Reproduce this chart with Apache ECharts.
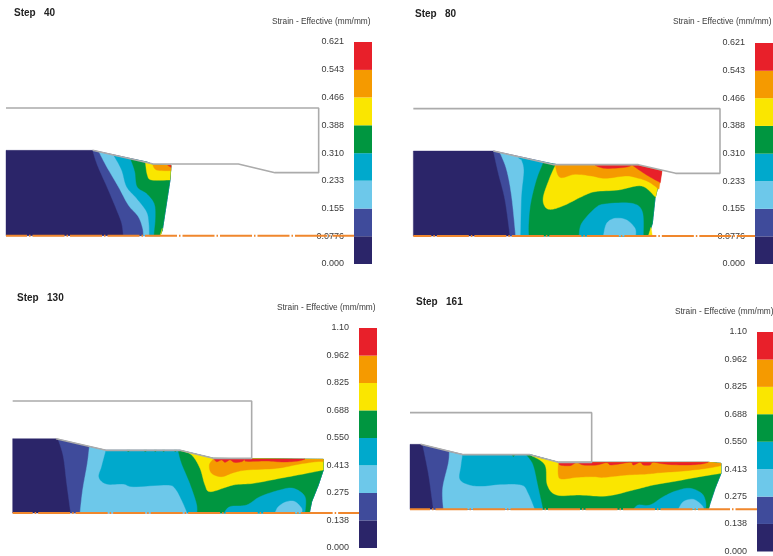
<!DOCTYPE html>
<html><head><meta charset="utf-8">
<style>html,body{margin:0;padding:0;background:#fff}#c{width:773px;height:556px;filter:blur(0.35px)}</style>
<script src="https://cdn.jsdelivr.net/npm/echarts@6/dist/echarts.min.js"></script>
</head><body><div id="c"></div>
<script>
const bandColors=['#2B2569','#3F4B9B','#6DC8EA','#00A9CC','#009640','#FAE600','#F59A00','#E8202A'];
const lowLevels=[0,0.0776,0.155,0.233,0.310,0.388,0.466,0.543,0.621];
const lowLabels=['0.000','0.0776','0.155','0.233','0.310','0.388','0.466','0.543','0.621'];
const highLevels=[0,0.138,0.275,0.413,0.550,0.688,0.825,0.962,1.10];
const highLabels=['0.000','0.138','0.275','0.413','0.550','0.688','0.825','0.962','1.10'];

// each band: [level, outline points, how many leading points form a smooth contour]
const step40Die=[[18,54],[956,54],[956,248],[825,248],[715,222],[460,222],[278,181]];
const step40Bands=[
[0,[[18,181],[278,181],[440,216],[460,224],[513,226],[510,270],[487,420],[480,437],[18,437]],0],
[1,[[278,181],[292,225],[325,300],[350,360],[365,400],[370,437],[480,437],[487,420],[510,270],[513,226],[460,224],[440,216]],6],
[2,[[297,186],[320,230],[355,290],[385,345],[415,380],[428,415],[430,437],[480,437],[487,420],[510,270],[513,226],[460,224],[440,216]],7],
[3,[[342,197],[365,240],[380,290],[410,325],[440,365],[447,400],[448,437],[480,437],[487,420],[510,270],[513,226],[460,224],[440,216]],7],
[4,[[392,207],[405,245],[412,290],[440,310],[463,340],[467,380],[462,437],[480,437],[487,420],[510,270],[513,226],[460,224],[440,216]],7],
[5,[[436,216],[442,255],[455,270],[510,270],[513,226],[460,224]],4],
[5,[[487,415],[482,437],[480,437]],0],
[6,[[458,224],[470,240],[513,242],[513,226]],3],
[7,[[503,226],[513,226],[513,232]],0]];

const step80Die=[[25,56],[945,56],[945,250],[812,250],[700,224],[447,224],[265,183]];
const step80Rim=[[730,438],[742,400],[750,325],[760,285],[770,243],[700,226],[470,226],[445,222]];
const step80Bands=[
[0,[[25,183],[265,183],[445,222],[470,226],[700,226],[770,243],[760,285],[750,325],[742,400],[730,438],[25,438]],0],
[1,[[265,183],[280,250],[300,330],[315,438],...step80Rim],4],
[2,[[285,188],[305,240],[320,320],[332,438],...step80Rim],4],
[3,[[347,203],[357,240],[350,320],[347,438],...step80Rim],4],
[3,[[340,203],[346,208],[352,203]],0],
[4,[[415,218],[395,270],[378,340],[372,400],[372,438],...step80Rim],5],
[5,[[452,224],[435,262],[415,320],[420,350],[440,358],[480,345],[530,320],[570,305],[640,300],[710,288],[752,322],[762,275],[770,243],[700,226]],11],
[5,[[738,412],[742,438],[730,438]],0],
[6,[[450,224],[465,262],[510,253],[560,258],[600,265],[660,258],[690,262],[730,275],[762,298],[770,243],[700,226]],9],
[7,[[570,226],[600,235],[660,232],[680,226]],4],
[7,[[682,226],[725,255],[766,278],[771,243],[700,226]],3],
[3,[[522,438],[530,400],[570,355],[600,342],[680,340],[712,365],[715,438]],7],
[2,[[595,438],[605,400],[630,385],[665,390],[690,415],[692,438]],6]];

const step130Die=[[38,33],[755,33],[755,205],[640,205],[540,181],[318,181],[168,146]];
const step130Rim=[[928,369],[935,335],[955,285],[970,240],[970,208],[640,205],[540,181],[318,181]];
const step130Bands=[
[0,[[38,146],[168,146],[318,181],[540,181],[640,205],[915,208],[970,208],[970,240],[955,285],[935,335],[928,369],[38,369]],0],
[1,[[175,150],[190,200],[200,280],[212,369],...step130Rim],4],
[2,[[268,170],[262,220],[248,300],[240,369],...step130Rim],4],
[3,[[318,181],[305,230],[297,262],[320,282],[370,282],[400,290],[500,285],[525,295],[545,330],[562,369],...step130Rim.slice(0,-1)],10],
[4,[[535,183],[545,220],[570,280],[590,340],[592,369],...step130Rim.slice(0,-1)],5],
[5,[[540,181],[575,195],[600,235],[615,285],[632,305],[700,285],[760,280],[840,265],[920,250],[970,240],[970,208],[640,205]],10],
[6,[[640,207],[628,225],[635,250],[665,260],[700,248],[740,240],[830,235],[900,222],[950,215],[970,215],[970,208]],10],
[7,[[642,207],[650,215],[665,210],[675,217],[690,210],[703,217],[725,215],[735,208],[740,214],[800,213],[850,216],[895,213],[915,207]],13],
[3,[[672,369],[690,350],[740,345],[780,320],[840,300],[880,295],[915,320],[915,369]],8],
[2,[[825,369],[835,350],[860,335],[885,335],[905,355],[905,369]],6],
[4,[[380,181],[385,186],[390,181]],0],[4,[[431,181],[436,186],[441,181]],0],[4,[[462,181],[466,186],[470,181]],0],[4,[[487,181],[491,186],[495,181]],0],[4,[[522,181],[526,186],[530,181]],0]];

const step161Die=[[30,38],[575,38],[575,187],[475,187],[390,164],[190,164],[62,133]];
const step161Rim=[[925,328],[930,310],[945,265],[963,220],[963,190],[925,187],[475,187],[390,164],[190,164]];
const step161Bands=[
[0,[[30,133],[62,133],[190,164],[390,164],[475,187],[925,187],[963,190],[963,220],[945,265],[930,310],[925,328],[30,328]],0],
[1,[[68,135],[85,220],[95,290],[100,328],...step161Rim],4],
[2,[[148,156],[145,190],[128,265],[130,328],...step161Rim],4],
[3,[[188,165],[183,200],[180,238],[210,255],[250,258],[300,253],[365,255],[385,280],[405,328],...step161Rim.slice(0,-1)],9],
[4,[[380,165],[400,195],[415,260],[430,328],...step161Rim.slice(0,-1)],4],
[4,[[336,164],[340,170],[345,164]],0],
[5,[[395,167],[435,195],[442,255],[470,285],[540,285],[620,288],[700,270],[760,255],[830,243],[900,230],[963,220],[963,190],[925,187],[475,187]],11],
[6,[[475,190],[475,225],[485,237],[530,232],[580,230],[610,232],[680,225],[740,222],[780,218],[850,213],[920,205],[963,197],[963,190],[925,187]],12],
[7,[[478,187],[480,195],[510,197],[530,188],[550,195],[590,195],[620,188],[635,195],[690,187],[700,195],[720,187],[730,195],[750,195],[760,187],[800,193],[860,195],[905,192],[925,187]],18],
[3,[[700,328],[715,315],[750,315],[790,290],[830,272],[870,265],[905,280],[917,305],[917,328]],9],
[2,[[835,328],[850,305],[880,298],[905,315],[912,328]],5]];

const panels=[
 {step:'Step   40',sx:14,sy:8,gx:0,gy:90,gw:354,gh:160,die:step40Die,bands:step40Bands,base:437,start:18,dash:11,
  levels:lowLevels,labels:lowLabels,barX:354,barTop:42,barBot:264,tx:272,ty:18},
 {step:'Step   80',sx:415,sy:9,gx:405,gy:90,gw:350,gh:160,die:step80Die,bands:step80Bands,base:438,start:25,dash:14,
  levels:lowLevels,labels:lowLabels,barX:755,barTop:43,barBot:264,tx:673,ty:18},
 {step:'Step   130',sx:17,sy:293.5,gx:0,gy:390,gw:359,gh:135,die:step130Die,bands:step130Bands,base:369,start:38,dash:12,
  levels:highLevels,labels:highLabels,barX:359,barTop:328,barBot:548,tx:277,ty:304},
 {step:'Step   161',sx:416,sy:297.5,gx:400,gy:400,gw:357,gh:125,die:step161Die,bands:step161Bands,base:328,start:30,dash:12,
  levels:highLevels,labels:highLabels,barX:757,barTop:332,barBot:553,tx:675,ty:308}
];

// Catmull-Rom rendering of a contour through its read points
function contour(pts){
 const out=[];
 for(let i=0;i<pts.length-1;i++){
  const a=pts[Math.max(i-1,0)],b=pts[i],c=pts[i+1],d=pts[Math.min(i+2,pts.length-1)];
  for(let k=0;k<8;k++){
   const t=k/8,t2=t*t,t3=t2*t;
   out.push([0,1].map(j=>0.5*(2*b[j]+(c[j]-a[j])*t+(2*a[j]-5*b[j]+4*c[j]-d[j])*t2+(3*b[j]-a[j]-3*c[j]+d[j])*t3)));
  }
 }
 out.push(pts[pts.length-1]);
 return out;
}

const grid=[],xAxis=[],yAxis=[],series=[],title=[];
panels.forEach(p=>{
 const fi=grid.length;
 grid.push({left:p.gx,top:p.gy,width:p.gw,height:p.gh});
 xAxis.push({type:'value',gridIndex:fi,min:0,max:p.gw*3,show:false});
 yAxis.push({type:'value',gridIndex:fi,min:0,max:p.gh*3,inverse:true,show:false});
 series.push({type:'custom',xAxisIndex:fi,yAxisIndex:fi,clip:false,silent:true,z:2,
  data:p.bands.map((b,i)=>[i,b[0]]),
  encode:{x:[],y:[]},
  renderItem:(params,api)=>{
   const b=p.bands[params.dataIndex];
   const pts=b[2]>1?[...contour(b[1].slice(0,b[2])),...b[1].slice(b[2])]:b[1];
   return {type:'polygon',shape:{points:pts.map(q=>api.coord(q))},
    style:{fill:bandColors[b[0]],stroke:bandColors[b[0]],lineWidth:0.4}};
  }});
 series.push({type:'line',xAxisIndex:fi,yAxisIndex:fi,data:p.die,symbol:'none',silent:true,z:3,
  lineStyle:{color:'#ABABAB',width:1.6}});
 series.push({type:'line',xAxisIndex:fi,yAxisIndex:fi,data:[[p.start,p.base],[p.gw*3,p.base]],symbol:'none',silent:true,z:4,
  lineStyle:{color:'#F0872D',width:2,type:[32,2,1.5,2],dashOffset:p.dash}});

 const li=grid.length;
 grid.push({left:p.barX,top:p.barTop,width:18,height:p.barBot-p.barTop});
 xAxis.push({type:'value',gridIndex:li,min:0,max:1,show:false});
 yAxis.push({type:'value',gridIndex:li,min:0,max:p.levels[p.levels.length-1],position:'left',
  axisLine:{show:false},axisTick:{show:false},splitLine:{show:false},
  axisLabel:{show:true,margin:10,padding:[2,0,0,0],color:'#3A3A3A',fontSize:9,fontFamily:'Liberation Sans',
   customValues:p.levels,formatter:v=>p.labels[p.levels.indexOf(v)]}});
 series.push({type:'custom',xAxisIndex:li,yAxisIndex:li,silent:true,z:5,clip:false,
  data:bandColors.map((c,i)=>[p.levels[i],p.levels[i+1]]),
  encode:{x:[],y:[0,1]},
  renderItem:(params,api)=>{
   const a=api.coord([0,api.value(0)]),b=api.coord([1,api.value(1)]);
   return {type:'rect',shape:{x:a[0],y:b[1],width:b[0]-a[0],height:a[1]-b[1]},
    style:{fill:bandColors[params.dataIndex]}};
  }});
 title.push({text:p.step,left:p.sx,top:p.sy,padding:0,textStyle:{fontSize:10,fontWeight:'bold',color:'#222',fontFamily:'Liberation Sans'}});
 title.push({text:'Strain - Effective (mm/mm)',left:p.tx,top:p.ty,padding:0,textStyle:{fontSize:8.3,fontWeight:'normal',color:'#3A3A3A',fontFamily:'Liberation Sans'}});
});
const chart=echarts.init(document.getElementById('c'),null,{renderer:'canvas'});
chart.setOption({animation:false,backgroundColor:'#fff',title,grid,xAxis,yAxis,series});
</script></body></html>
